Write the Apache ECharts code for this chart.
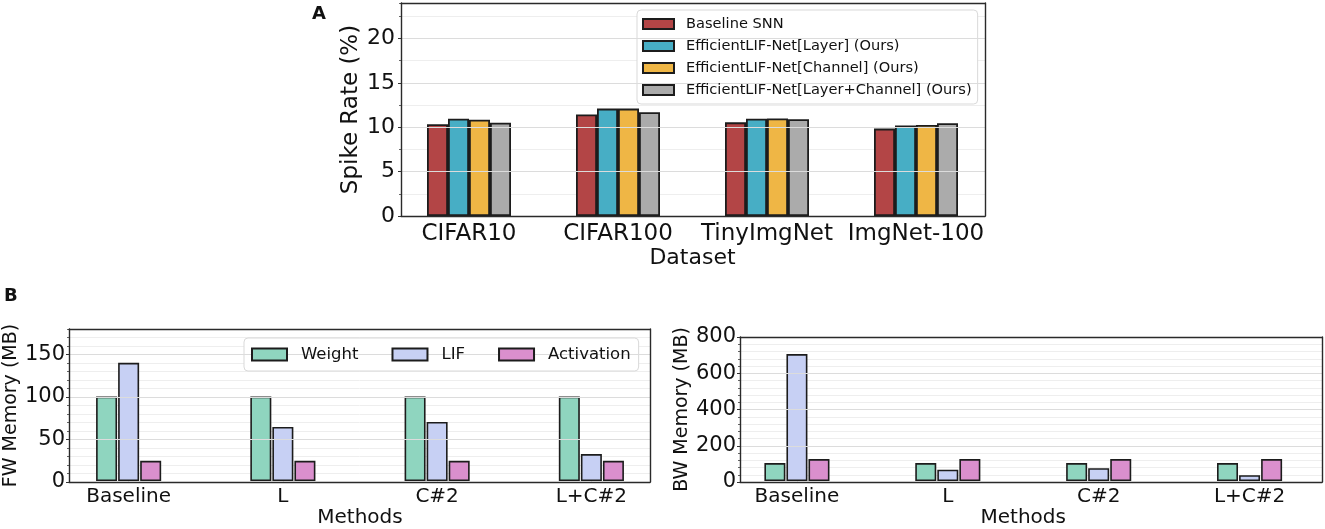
<!DOCTYPE html>
<html>
<head>
<meta charset="utf-8">
<script src="https://cdn.jsdelivr.net/npm/echarts@6/dist/echarts.min.js"></script>
<style>
  html, body { margin: 0; padding: 0; background: #fff; }
  #main { width: 1325px; height: 529px; }
</style>
</head>
<body>
<div id="main"></div>
<script>
// panel A: spike rate per dataset
var datasets = ['CIFAR10', 'CIFAR100', 'TinyImgNet', 'ImgNet-100'];
var baselineSnn = [10.35, 11.45, 10.55, 9.85];
var effLayer = [10.95, 12.1, 10.95, 10.2];
var effChannel = [10.85, 12.1, 11.0, 10.25];
var effLayerChannel = [10.5, 11.7, 10.9, 10.45];

// panel B: memory per method
var methods = ['Baseline', 'L', 'C#2', 'L+C#2'];
var fwWeight = [100, 100, 100, 100];
var fwLif = [140, 64, 70, 32];
var fwActivation = [24, 24, 24, 24];
var bwWeight = [100, 100, 100, 100];
var bwLif = [705, 63, 72, 33];
var bwActivation = [122, 122, 122, 122];

var FONT = 'DejaVu Sans';
var SPINE = { color: '#2a2a2a', width: 1.4 };
var myChart = echarts.init(document.getElementById('main'));

function frameY(max, step, fontSize, labelMargin, name, nameSize, nameGap, showMax, gridIndex) {
  return {
    type: 'value', gridIndex: gridIndex, position: 'left', min: 0, max: max, interval: step,
    name: name, nameLocation: 'middle', nameGap: nameGap,
    nameTextStyle: { fontFamily: FONT, fontSize: nameSize, color: '#111' },
    axisLine: { show: true, onZero: false, lineStyle: SPINE },
    axisTick: { show: true, length: 3, lineStyle: { color: '#333' } },
    axisLabel: { fontFamily: FONT, fontSize: fontSize, color: '#111', margin: labelMargin, showMaxLabel: showMax },
    splitLine: { lineStyle: { color: '#dcdcdc', width: 1.2 } },
    z: 4
  };
}
function minorY(max, step, gridIndex) {
  return {
    type: 'value', gridIndex: gridIndex, position: 'left', min: 0, max: max, interval: step,
    axisLine: { show: false },
    axisTick: { show: true, length: 2, lineStyle: { color: '#666' } },
    axisLabel: { show: false },
    splitLine: { lineStyle: { color: '#eeeeee', width: 1 } },
    z: 2
  };
}
// right spine of a frame grid
function rightY(gridIndex) {
  return {
    type: 'value', gridIndex: gridIndex, position: 'right', min: 0, max: 1,
    axisLine: { show: true, onZero: false, lineStyle: SPINE },
    axisTick: { show: false }, axisLabel: { show: false }, splitLine: { show: false }, z: 4
  };
}
function hiddenY(max, gridIndex) {
  return { type: 'value', gridIndex: gridIndex, min: 0, max: max, show: false, splitLine: { show: false } };
}
// hidden x axis of a frame grid; its line draws the bottom/top spines
function frameX(gridIndex, pos) {
  return {
    type: 'value', gridIndex: gridIndex, position: pos, min: 0, max: 1,
    axisLine: { show: true, onZero: false, lineStyle: SPINE },
    axisTick: { show: false }, axisLabel: { show: false }, splitLine: { show: false }, z: 4
  };
}
function catX(data, fontSize, margin, name, nameSize, nameGap, gridIndex) {
  return {
    type: 'category', gridIndex: gridIndex, data: data,
    name: name, nameLocation: 'middle', nameGap: nameGap,
    nameTextStyle: { fontFamily: FONT, fontSize: nameSize, color: '#111' },
    axisLine: { show: false },
    axisTick: { show: true, alignWithLabel: true, inside: true, length: 3, lineStyle: { color: '#333' } },
    axisLabel: { fontFamily: FONT, fontSize: fontSize, color: '#111', margin: margin, interval: 0 }
  };
}
function bar(name, data, color, xi, yi, width, gap, border) {
  return {
    name: name, type: 'bar', xAxisIndex: xi, yAxisIndex: yi, data: data,
    barWidth: width, barGap: gap,
    itemStyle: { color: color, borderColor: '#1c1c1c', borderWidth: border },
    emphasis: { disabled: true }
  };
}

var option = {
  animation: false,
  textStyle: { fontFamily: FONT },
  grid: [
    { left: 401, top: 3, width: 584, height: 213 },
    { left: 394.5, top: 3, width: 596, height: 213 },
    { left: 69, top: 329, width: 581, height: 153 },
    { left: 51.5, top: 329, width: 617, height: 153 },
    { left: 740, top: 337, width: 582, height: 145 },
    { left: 721.5, top: 337, width: 618, height: 145 }
  ],
  xAxis: [
    frameX(0, 'bottom'),
    catX(datasets, 23, 7, 'Dataset', 22, 30, 1),
    frameX(2, 'bottom'),
    catX(methods, 20, 6, 'Methods', 20, 25, 3),
    frameX(4, 'bottom'),
    catX(methods, 20, 6, 'Methods', 20, 25, 5),
    frameX(0, 'top'),
    frameX(2, 'top'),
    frameX(4, 'top')
  ],
  yAxis: [
    frameY(24, 5, 22, 6, 'Spike Rate (%)', 23, 38, false, 0),
    minorY(24, 2.5, 0),
    hiddenY(24, 1),
    frameY(180, 50, 21, 4, 'FW Memory (MB)', 19, 46, false, 2),
    minorY(180, 10, 2),
    hiddenY(180, 3),
    frameY(800, 200, 21, 4, 'BW Memory (MB)', 19, 45, true, 4),
    minorY(800, 40, 4),
    hiddenY(800, 5),
    rightY(0),
    rightY(2),
    rightY(4)
  ],
  legend: [
    {
      data: ['Baseline SNN', 'EfficientLIF-Net[Layer] (Ours)', 'EfficientLIF-Net[Channel] (Ours)', 'EfficientLIF-Net[Layer+Channel] (Ours)'],
      orient: 'vertical', left: 637, top: 10,
      padding: [5, 6, 5, 5], itemGap: 4, itemWidth: 31, itemHeight: 10, icon: 'rect',
      backgroundColor: '#fff', borderColor: '#d9d9d9', borderWidth: 1, borderRadius: 4,
      textStyle: { fontFamily: FONT, fontSize: 14.6, color: '#111', lineHeight: 18, padding: [0, 0, 0, 7] }
    },
    {
      data: ['Weight', 'LIF', 'Activation'],
      orient: 'horizontal', left: 244, top: 338,
      padding: [8, 8, 8, 7], itemGap: 33, itemWidth: 35, itemHeight: 12, icon: 'rect',
      backgroundColor: '#fff', borderColor: '#d9d9d9', borderWidth: 1, borderRadius: 4,
      textStyle: { fontFamily: FONT, fontSize: 16.5, color: '#111', padding: [0, 0, 0, 9] }
    }
  ],
  graphic: [
    { type: 'text', left: 312, top: 5, style: { text: 'A', font: 'bold 18px "DejaVu Sans"', fill: '#111' } },
    { type: 'text', left: 4, top: 287, style: { text: 'B', font: 'bold 18px "DejaVu Sans"', fill: '#111' } }
  ],
  series: [
    bar('Baseline SNN', baselineSnn, '#b34546', 1, 2, 21, '0%', 1.8),
    bar('EfficientLIF-Net[Layer] (Ours)', effLayer, '#47aec5', 1, 2, 21, '0%', 1.8),
    bar('EfficientLIF-Net[Channel] (Ours)', effChannel, '#efb645', 1, 2, 21, '0%', 1.8),
    bar('EfficientLIF-Net[Layer+Channel] (Ours)', effLayerChannel, '#ababab', 1, 2, 21, '0%', 1.8),
    bar('Weight', fwWeight, '#8fd5bf', 3, 5, 21, '5%', 1.6),
    bar('LIF', fwLif, '#c7d0f4', 3, 5, 21, '5%', 1.6),
    bar('Activation', fwActivation, '#da8fcd', 3, 5, 21, '5%', 1.6),
    bar('Weight', bwWeight, '#8fd5bf', 5, 8, 21, '5%', 1.6),
    bar('LIF', bwLif, '#c7d0f4', 5, 8, 21, '5%', 1.6),
    bar('Activation', bwActivation, '#da8fcd', 5, 8, 21, '5%', 1.6)
  ]
};
myChart.setOption(option);
</script>
</body>
</html>
